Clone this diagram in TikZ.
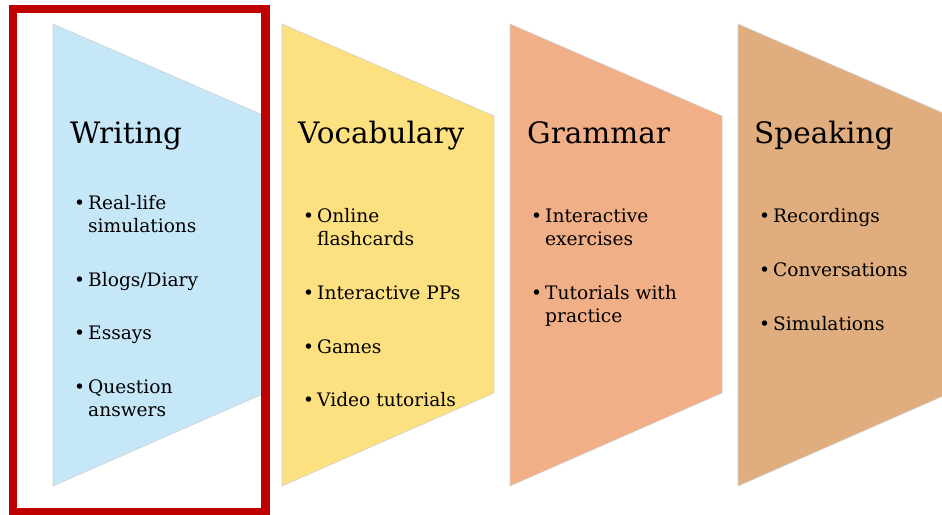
\documentclass[tikz,border=0pt]{standalone}
\usepackage{fontspec}
\setmainfont{DejaVu Serif}
\definecolor{wrtblue}{HTML}{C6E7F8}
\definecolor{vocyellow}{HTML}{FDE07F}
\definecolor{gramorange}{HTML}{F1AF87}
\definecolor{spktan}{HTML}{DFAD7E}
\definecolor{hilite}{HTML}{C00000}
\newcommand{\blt}{\makebox[14pt][l]{\textbullet}}
\newcommand{\ind}{\hspace*{14pt}}
\tikzset{
  funnel/.style={draw=black!18, line width=0.6pt},
  heading/.style={anchor=base west, inner sep=0pt, font=\fontsize{29.5}{33}\selectfont},
  item/.style={anchor=base west, inner sep=0pt, align=left, font=\fontsize{18.6}{23}\selectfont}
}
\begin{document}
\begin{tikzpicture}[x=1pt, y=-1pt]

                  \clip (0,0) rectangle (942,514);
                  \fill[white] (0,0) rectangle (942,514);

                  % writing
                  \begin{scope}
                    \draw[funnel, fill=wrtblue] (53,24) -- (265,116) -- (265,393) -- (53,486) -- cycle;
                    \node[heading] (wrt) at (70,143.5) {Writing};
                    \node[item] (wrt1) at (74,232.5) {\blt Real-life\\\ind simulations};
                    \node[item] (wrt2) at (74,286.5) {\blt Blogs/Diary};
                    \node[item] (wrt3) at (74,339.5) {\blt Essays};
                    \node[item] (wrt4) at (74,416.5) {\blt Question\\\ind answers};
                  \end{scope}

                  % vocabulary
                  \begin{scope}
                    \draw[funnel, fill=vocyellow] (282,24) -- (494,116) -- (494,393) -- (282,486) -- cycle;
                    \node[heading] (voc) at (298,143.5) {Vocabulary};
                    \node[item] (voc1) at (303,245.5) {\blt Online\\\ind flashcards};
                    \node[item] (voc2) at (303,299.5) {\blt Interactive PPs};
                    \node[item] (voc3) at (303,353.5) {\blt Games};
                    \node[item] (voc4) at (303,406.5) {\blt Video tutorials};
                  \end{scope}

                  % grammar
                  \begin{scope}
                    \draw[funnel, fill=gramorange] (510,24) -- (722,116) -- (722,393) -- (510,486) -- cycle;
                    \node[heading] (gram) at (527,143.5) {Grammar};
                    \node[item] (gram1) at (531,245.5) {\blt Interactive\\\ind exercises};
                    \node[item] (gram2) at (531,322.5) {\blt Tutorials with\\\ind practice};
                  \end{scope}

                  % speaking
                  \begin{scope}
                    \draw[funnel, fill=spktan] (738,24) -- (950,116) -- (950,393) -- (738,486) -- cycle;
                    \node[heading] (spk) at (754,143.5) {Speaking};
                    \node[item] (spk1) at (759,222.5) {\blt Recordings};
                    \node[item] (spk2) at (759,276.5) {\blt Conversations};
                    \node[item] (spk3) at (759,330.5) {\blt Simulations};
                  \end{scope}

                  \draw[hilite, line width=8.5pt] (13,9) rectangle (265.5,512);

                \end{tikzpicture}
\end{document}
